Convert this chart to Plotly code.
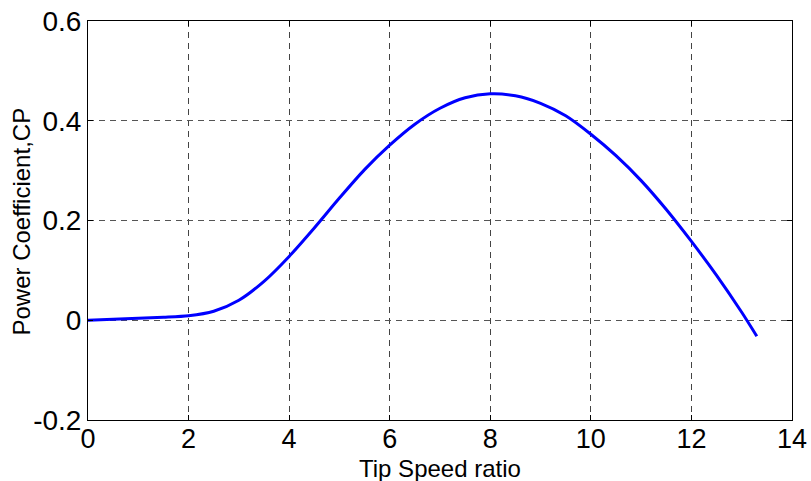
import plotly.graph_objects as go

tsr = [0, 0.5, 1, 1.5, 2, 2.5, 3, 3.5, 4, 4.5, 5, 5.5, 6, 6.5, 7, 7.5, 8,
       8.5, 9, 9.5, 10, 10.5, 11, 11.5, 12, 12.5, 13, 13.3]
cp = [0, 0.002, 0.004, 0.006, 0.009, 0.018, 0.040, 0.078, 0.128, 0.185, 0.245,
      0.302, 0.351, 0.393, 0.425, 0.446, 0.454, 0.450, 0.435, 0.410, 0.373,
      0.330, 0.280, 0.222, 0.158, 0.090, 0.016, -0.032]

x_ticks = [0, 2, 4, 6, 8, 10, 12, 14]
y_ticks = [-0.2, 0, 0.2, 0.4, 0.6]
y_tick_labels = ["-0.2", "0", "0.2", "0.4", "0.6"]
x_title = "Tip Speed ratio"
y_title = "Power Coefficient,CP"

fig = go.Figure()
fig.add_trace(go.Scatter(x=tsr, y=cp, mode="lines",
                         line=dict(color="#0000FF", width=3, shape="spline", smoothing=0.8),
                         showlegend=False))

font = "Liberation Sans, Arial, sans-serif"
fig.update_layout(
    width=811, height=481,
    margin=dict(l=88, r=19, t=21, b=61),
    paper_bgcolor="white", plot_bgcolor="white",
    font=dict(family=font, color="black"),
    xaxis=dict(range=[0, 14], tickvals=x_ticks, ticktext=[str(v) for v in x_ticks],
               showline=True, linecolor="black", linewidth=1, mirror="ticks",
               ticks="inside", ticklen=5, tickcolor="black", automargin=False,
               ticklabelstandoff=-5,
               showgrid=True, gridcolor="#444", griddash="6px,5px", gridwidth=1,
               zeroline=False, tickfont=dict(size=27)),
    yaxis=dict(range=[-0.2, 0.6], tickvals=y_ticks, ticktext=y_tick_labels,
               showline=True, linecolor="black", linewidth=1, mirror="ticks",
               ticks="inside", ticklen=5, tickcolor="black", automargin=False,
               showgrid=True, gridcolor="#555", griddash="6px,5px", gridwidth=1,
               zeroline=False, tickfont=dict(size=28)),
    annotations=[
        dict(text=x_title, xref="paper", yref="paper", x=0.5, y=-0.122,
             xanchor="center", yanchor="middle", showarrow=False,
             font=dict(size=24, family=font, color="black")),
        dict(text=y_title, xref="paper", yref="paper", x=-0.094, y=0.497,
             xanchor="center", yanchor="middle", showarrow=False, textangle=-90,
             font=dict(size=24, family=font, color="black")),
    ],
)
fig.write_html("out.html")
